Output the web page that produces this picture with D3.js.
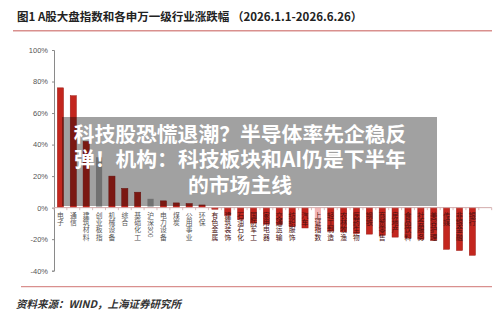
<!DOCTYPE html>
<html>
<head>
<meta charset="utf-8">
<script src="https://cdn.jsdelivr.net/npm/d3@7/dist/d3.min.js"></script>
<style>
  body { margin: 0; background: #fff; }
  text { font-family: "Noto Sans CJK SC", "Noto Sans", sans-serif; }
</style>
</head>
<body>
<div id="chart"></div>
<script>
// data
var categories = ["电子", "通信", "建筑材料", "创业板指", "机械设备", "综合", "基础化工", "沪深300",
  "电力设备", "煤炭", "公用事业", "环保", "有色金属", "建筑装饰", "石油石化", "国防军工",
  "家用电器", "交通运输", "纺织服饰", "汽车", "上证指数", "轻工制造", "农林牧渔", "医药生物",
  "钢铁", "商贸零售", "房地产", "食品饮料", "社会服务", "美容护理", "传媒", "非银金融", "银行"];
var values = [76, 71, 42, 32, 20, 12.2, 9.8, 5.6,
  4.3, 3.0, 2.6, 1.7, -1.0, -5.0, -7.5, -9.8,
  -10.5, -10.8, -12.0, -12.9, -14.8, -14.9, -15.4, -16.4,
  -16.8, -17.5, -18.7, -19.3, -20.1, -20.8, -26.4, -27.2, -30.2];
var indexNames = ["创业板指", "沪深300"];
var highlightName = "上证指数";
var yTicks = [-40, -20, 0, 20, 40, 60, 80, 100];

var titleText = "图1 A股大盘指数和各申万一级行业涨跌幅 （2026.1.1-2026.6.26）";
var sourceText = "资料来源：WIND，上海证券研究所";
var overlayLines = ["科技股恐慌退潮？半导体率先企稳反", "弹！机构：科技板块和AI仍是下半年", "的市场主线"];

var W = 500, H = 323;
var svg = d3.select("#chart").append("svg")
  .attr("width", W)
  .attr("height", H);

// title + rules
svg.append("text")
  .attr("x", 17).attr("y", 20.5)
  .attr("font-size", 11.5)
  .attr("font-weight", 700)
  .attr("fill", "#222")
  .text(titleText);
svg.append("line")
  .attr("x1", 13).attr("x2", 492).attr("y1", 30.7).attr("y2", 30.7)
  .attr("stroke", "#d9908e").attr("stroke-width", 1.5);
svg.append("line")
  .attr("x1", 21).attr("x2", 492).attr("y1", 286.7).attr("y2", 286.7)
  .attr("stroke", "#d9908e").attr("stroke-width", 1.2);
svg.append("text")
  .attr("x", 16).attr("y", 308)
  .attr("font-size", 10.5)
  .attr("font-style", "italic")
  .attr("font-weight", 700)
  .attr("fill", "#333")
  .text(sourceText);

var x = d3.scaleBand()
  .domain(categories)
  .range([54, 478.8])
  .paddingInner(0.52)
  .paddingOuter(0.26);
var y = d3.scaleLinear()
  .domain([-40, 100])
  .range([270.7, 50]);

// y axis
var yAxis = svg.append("g")
  .attr("transform", "translate(54,0)")
  .call(d3.axisLeft(y).tickValues(yTicks).tickSize(2).tickPadding(4).tickFormat(d => d + "%"));
yAxis.select(".domain").attr("stroke", "#8a8a8a");
yAxis.selectAll(".tick line").attr("stroke", "#8a8a8a");
yAxis.selectAll(".tick text")
  .attr("font-size", 7.5)
  .attr("fill", "#555")
  .style("font-family", "Arial, 'Liberation Sans', sans-serif");

// bars
function barFill(d) {
  if (indexNames.indexOf(d) >= 0) return "#b3b3b3";
  if (d === highlightName) return "#f3b5b5";
  return "#c3261e";
}
svg.append("g").selectAll("rect")
  .data(categories)
  .join("rect")
  .attr("x", d => x(d))
  .attr("width", x.bandwidth())
  .attr("y", (d, i) => y(Math.max(0, values[i])))
  .attr("height", (d, i) => Math.abs(y(values[i]) - y(0)))
  .attr("fill", barFill)
  .attr("stroke", d => barFill(d) === "#c3261e" ? "#9c1a14" : "none")
  .attr("stroke-width", 0.5);

// category axis at zero
var step = x.step();
var x0 = x.range()[0];
svg.append("line")
  .attr("x1", x0).attr("x2", x.range()[1] + step)
  .attr("y1", y(0)).attr("y2", y(0))
  .attr("stroke", "#d2aaaa").attr("stroke-width", 1);
svg.append("g").selectAll("line")
  .data(d3.range(categories.length + 2))
  .join("line")
  .attr("x1", i => x0 + i * step).attr("x2", i => x0 + i * step)
  .attr("y1", y(0)).attr("y2", y(0) + 2.5)
  .attr("stroke", "#d2aaaa").attr("stroke-width", 0.8);

// vertical category labels: CJK chars stacked upright, digits turned sideways
var fs = 6.8, charH = 7.3;
svg.append("g").selectAll("text")
  .data(categories)
  .join("text")
  .attr("font-size", fs)
  .attr("fill", (d, i) => values[i] < 0 ? "#4a1010" : "#555")
  .each(function(d) {
    var t = d3.select(this);
    var cx = x(d) + x.bandwidth() / 2, off = y(0) + 4;
    Array.from(d).forEach(function(ch) {
      if (/[0-9A-Za-z]/.test(ch)) {
        t.append("tspan")
          .attr("x", cx - fs * 0.36).attr("y", off)
          .attr("rotate", 90)
          .style("font-family", "Arial, 'Liberation Sans', sans-serif")
          .text(ch);
        off += fs * 0.56;
      } else {
        t.append("tspan")
          .attr("x", cx - fs / 2).attr("y", off + fs * 0.88)
          .text(ch);
        off += charH;
      }
    });
  });

// grey headline overlay
svg.append("rect")
  .attr("x", 62).attr("y", 117)
  .attr("width", 375).attr("height", 89)
  .attr("fill", "#000").attr("fill-opacity", 0.37);
svg.append("text")
  .attr("text-anchor", "middle")
  .attr("font-size", 20.8)
  .attr("font-weight", 700)
  .attr("fill", "#fff")
  .selectAll("tspan")
  .data(overlayLines)
  .join("tspan")
  .attr("x", 240)
  .attr("y", (d, i) => 141.5 + i * 25.8)
  .text(d => d);
</script>
</body>
</html>
